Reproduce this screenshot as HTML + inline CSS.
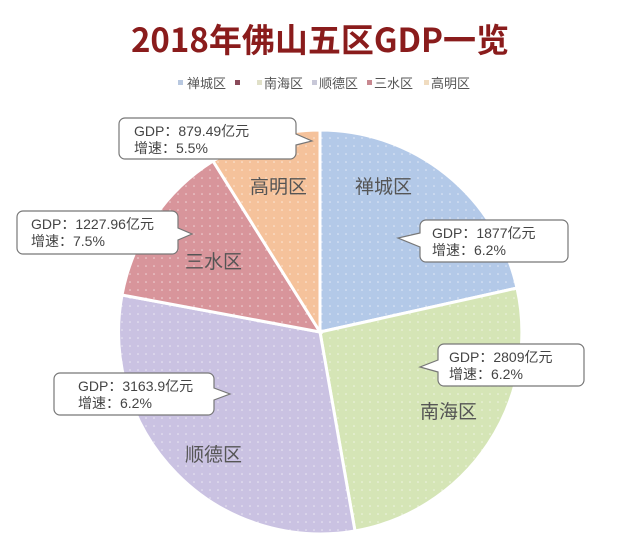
<!DOCTYPE html>
<html><head><meta charset="utf-8"><style>
body{margin:0;width:640px;height:545px;background:#fff;overflow:hidden}
text{font-family:"Liberation Sans","Noto Sans CJK SC",sans-serif}
</style></head><body>
<svg width="640" height="545" viewBox="0 0 640 545" xmlns="http://www.w3.org/2000/svg">
<defs>
<pattern id="dots" width="8" height="8" patternUnits="userSpaceOnUse"><circle cx="2" cy="2" r="0.8" fill="#fff" opacity="0.6"/></pattern>
</defs>
<text x="320" y="52" text-anchor="middle" font-size="33" font-weight="bold" fill="#8a1c1c" style="font-family:'Noto Sans CJK SC',sans-serif">2018年佛山五区GDP一览</text>
<g font-size="13" fill="#555">
<rect x="178" y="80" width="5" height="5" fill="#b8c8e0"/><text x="187" y="88">禅城区</text>
<rect x="235" y="80" width="5" height="5" fill="#8a4a5a"/>
<rect x="257" y="80" width="5" height="5" fill="#e0e0c8"/><text x="264" y="88">南海区</text>
<rect x="312" y="80" width="5" height="5" fill="#c8c8d8"/><text x="319" y="88">顺德区</text>
<rect x="367" y="80" width="5" height="5" fill="#c88890"/><text x="374" y="88">三水区</text>
<rect x="424" y="80" width="5" height="5" fill="#f0dcc0"/><text x="431" y="88">高明区</text>
</g>
<g stroke="#fff" stroke-width="3">
<path d="M320,332 L320,130 A202,202 0 0 1 517,288 Z" fill="#b3c9e8"/>
<path d="M320,332 L517,288 A202,202 0 0 1 355,531 Z" fill="#d5e5b6"/>
<path d="M320,332 L355,531 A202,202 0 0 1 122,295 Z" fill="#cac2e2"/>
<path d="M320,332 L122,295 A202,202 0 0 1 213,161 Z" fill="#d8959b"/>
<path d="M320,332 L213,161 A202,202 0 0 1 320,130 Z" fill="#f5c29b"/>
</g>
<circle cx="320" cy="332" r="202" fill="url(#dots)"/>
<g font-size="19" fill="#555" style="font-family:'Noto Sans CJK SC',sans-serif">
<text x="355" y="193">禅城区</text>
<text x="250" y="193">高明区</text>
<text x="185" y="268">三水区</text>
<text x="420" y="418">南海区</text>
<text x="185" y="461">顺德区</text>
</g>
<g fill="#fff" stroke="#777" stroke-width="1.2">
<path d="M125,118 H290 a6,6 0 0 1 6,6 V134 L312,141 L296,145 V153 a6,6 0 0 1 -6,6 H125 a6,6 0 0 1 -6,-6 V124 a6,6 0 0 1 6,-6 Z"/>
<path d="M23,211 H172 a6,6 0 0 1 6,6 V228 L192,234 L178,240 V248 a6,6 0 0 1 -6,6 H23 a6,6 0 0 1 -6,-6 V217 a6,6 0 0 1 6,-6 Z"/>
<path d="M426,220 H562 a6,6 0 0 1 6,6 V256 a6,6 0 0 1 -6,6 H426 a6,6 0 0 1 -6,-6 V247 L398,238 L420,233 V226 a6,6 0 0 1 6,-6 Z"/>
<path d="M444,344 H578 a6,6 0 0 1 6,6 V380 a6,6 0 0 1 -6,6 H444 a6,6 0 0 1 -6,-6 V372 L420,367 L438,360 V350 a6,6 0 0 1 6,-6 Z"/>
<path d="M60,373 H208 a6,6 0 0 1 6,6 V388 L230,394 L214,400 V409 a6,6 0 0 1 -6,6 H60 a6,6 0 0 1 -6,-6 V379 a6,6 0 0 1 6,-6 Z"/>
</g>
<g font-size="14" fill="#444">
<text x="134" y="136">GDP：879.49亿元</text><text x="134" y="153">增速：5.5%</text>
<text x="31" y="229">GDP：1227.96亿元</text><text x="31" y="246">增速：7.5%</text>
<text x="432" y="238">GDP：1877亿元</text><text x="432" y="255">增速：6.2%</text>
<text x="449" y="362">GDP：2809亿元</text><text x="449" y="379">增速：6.2%</text>
<text x="78" y="391">GDP：3163.9亿元</text><text x="78" y="408">增速：6.2%</text>
</g>
</svg>
</body></html>
